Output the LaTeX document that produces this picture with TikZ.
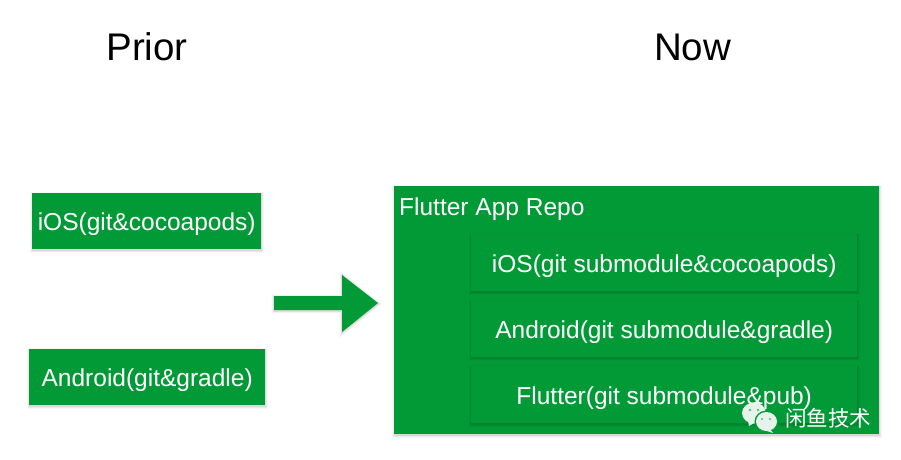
\documentclass[tikz,border=0pt]{standalone}
\usepackage{fontspec}
\setmainfont{Liberation Sans}
\newfontfamily\cjk{Noto Sans CJK SC}
\definecolor{fgreen}{HTML}{029A37}
\definecolor{wcicon}{HTML}{E6F3EA}
\tikzset{
  x=1pt,y=-1pt,
  softshadow/.style={
    preaction={draw=black,fill=none,draw opacity=0.03,line width=5pt,transform canvas={yshift=-0.8pt}},
    preaction={draw=black,fill=none,draw opacity=0.05,line width=3pt,transform canvas={yshift=-0.8pt}},
    preaction={draw=black,fill=none,draw opacity=0.07,line width=1.4pt,transform canvas={yshift=-0.8pt}}},
  boxtext/.style={text=white,font=\fontsize{24.5}{29}\selectfont},
  box/.style={fill=fgreen,inner sep=0pt,boxtext,softshadow},
  title/.style={font=\fontsize{38.5}{44}\selectfont,text=black,inner sep=0pt},
  caption/.style={boxtext,inner sep=0pt},
}
\newcommand{\pbox}[7]{\node[box,minimum width=#3 pt,minimum height=#4 pt,anchor=north west] (#5) at (#1,#2) {\raisebox{-#7pt}[18pt][6pt]{#6}};}
\begin{document}
\begin{tikzpicture}
\useasboundingbox (0,0) rectangle (901,459);
\fill[white] (0,0) rectangle (901,459);
\node[title] (prior) at (147,47) {Prior};
\node[title] (now) at (692.5,47) {Now};
\pbox{32}{193}{229}{56}{ios}{iOS(git\&cocoapods)}{3}
\pbox{29}{349}{236}{56}{android}{Android(git\&gradle)}{3}
\path[fill=fgreen,softshadow] (274,296) -- (342,296) -- (342,275) -- (378,303) -- (342,332) -- (342,310) -- (274,310) -- cycle;
\pbox{394}{186}{485}{248}{repo}{}{0}
\node[caption,anchor=west] (repotitle) at (399,209) {Flutter App Repo};
\pbox{471}{234}{386}{57}{iosrepo}{iOS(git submodule\&cocoapods)}{4}
\pbox{471}{300}{386}{57}{androidrepo}{Android(git submodule\&gradle)}{4}
\pbox{471}{366}{386}{57}{flutterrepo}{Flutter(git submodule\&pub)}{4}
% watermark
\fill[wcicon] (754,413) ellipse (12 and 10.5);
\fill[wcicon] (748,421) -- (749,426) -- (756,422) -- cycle;
\fill[fgreen] (766.5,421.5) ellipse (12 and 11);
\fill[wcicon] (766.5,421.5) ellipse (10.5 and 9.5);
\fill[wcicon] (770,429) -- (773,433) -- (764,430) -- cycle;
\fill[fgreen!60!wcicon] (750,410) circle (1.3) (758,410) circle (1.3) (762,419) circle (1.2) (770,419) circle (1.2);
\node[text=white,inner sep=0pt,font=\cjk\fontsize{21.5}{26}\selectfont] (mark) at (828,418) {闲鱼技术};
\end{tikzpicture}
\end{document}
